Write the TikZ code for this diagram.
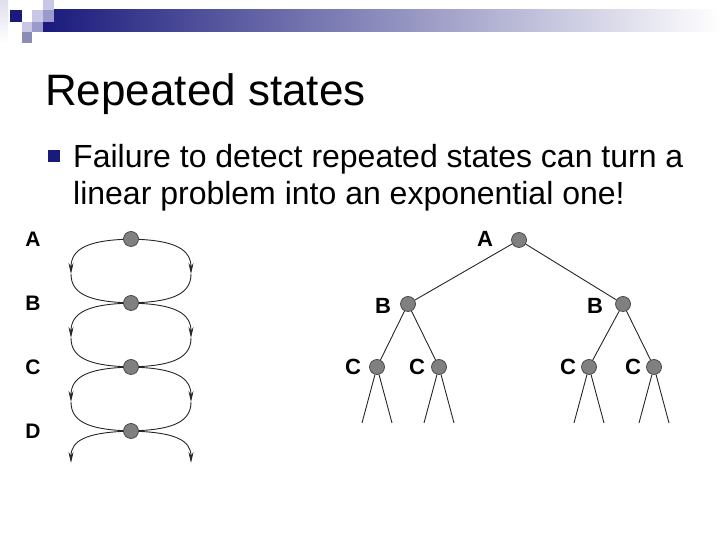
\documentclass[tikz,border=0pt]{standalone}
\usepackage{fontspec}
\setmainfont{Liberation Sans}
\usetikzlibrary{arrows.meta}
\definecolor{slidenavy}{HTML}{1A1A7C}
\definecolor{slidemid}{HTML}{9A9ACC}
\definecolor{slidelight}{HTML}{C8C8E6}
\definecolor{slidegrey}{HTML}{A4A4B6}
\tikzset{
 state/.style={circle, fill=gray, draw=black!75, line width=0.7pt, inner sep=0pt, minimum size=15pt},
 edge/.style={draw=black!85, line width=0.9pt},
 lbl/.style={font=\fontsize{21}{21}\selectfont\bfseries},
 tlbl/.style={font=\fontsize{22}{22}\selectfont\bfseries}
}
\begin{document}
\begin{tikzpicture}[x=1pt, y=1pt, >={Stealth[length=11pt,width=5pt]}, line join=round]
 \useasboundingbox (0,0) rectangle (720,540);
 % slide header
 \shade[top color=slidelight!60, bottom color=white] (0,497) rectangle (8,540);
 \shade[left color=slidenavy, middle color=slidegrey, right color=white] (43,508) rectangle (720,530);
 \fill[slidenavy] (10,518) rectangle (22,530);
 \fill[slidelight] (32,518) rectangle (43,530);
 \fill[slidelight] (43,530) rectangle (54,540);
 \fill[slidemid] (43,518) rectangle (54,530);
 \fill[slidelight] (22,508) rectangle (32,518);
 \fill[slidemid] (32,508) rectangle (43,518);
 \fill[slidemid!90!black] (22,497) rectangle (32,508);
 \node[anchor=base west, font=\fontsize{44}{53}\selectfont, inner sep=0pt] (title) at (45,434) {Repeated states};
 \fill[slidenavy] (48,378) rectangle (60,390);
 \node[anchor=base west, font=\fontsize{32}{37}\selectfont, inner sep=0pt] (line1) at (73,372) {Failure to detect repeated states can turn a};
 \node[anchor=base west, font=\fontsize{32}{37}\selectfont, inner sep=0pt] (line2) at (73,335) {linear problem into an exponential one!};
 % chain of states
 \node[state] (s1) at (131,301) {};
 \node[state] (s2) at (131,237) {};
 \node[state] (s3) at (131,173) {};
 \node[state] (s4) at (131,109) {};
 \node[lbl] (la) at (33,301) {A};
 \node[lbl] (lb) at (33,237) {B};
 \node[lbl] (lc) at (33,173) {C};
 \node[lbl] (ld) at (33,109) {D};
 \foreach \i/\j/\y in {1/2/301, 2/3/237, 3/4/173} {
  \coordinate (l\i) at (71,\y-35);
  \coordinate (r\i) at (191,\y-35);
  \draw[edge,->] (s\i) .. controls (88,\y-2) and (71,\y-10) .. (l\i);
  \draw[edge] (l\i) .. controls (71,\y-54) and (88,\y-62) .. (s\j);
  \draw[edge,->] (s\i) .. controls (174,\y-2) and (191,\y-10) .. (r\i);
  \draw[edge] (r\i) .. controls (191,\y-54) and (174,\y-62) .. (s\j);
 }
 \coordinate (l4) at (71,77);
 \coordinate (r4) at (191,77);
 \draw[edge,->] (s4) .. controls (88,107) and (71,100) .. (l4);
 \draw[edge,->] (s4) .. controls (174,107) and (191,100) .. (r4);
 % search tree
 \node[state] (tA) at (519,300) {};
 \node[state] (tB1) at (408,236) {};
 \node[state] (tB2) at (623,236) {};
 \node[state] (tC1) at (377,173) {};
 \node[state] (tC2) at (439,173) {};
 \node[state] (tC3) at (589,173) {};
 \node[state] (tC4) at (654,173) {};
 \node[tlbl] (tlA) at (485,301) {A};
 \node[tlbl] (tlB1) at (383,234) {B};
 \node[tlbl] (tlB2) at (595,234) {B};
 \node[tlbl] (tlC1) at (353,173) {C};
 \node[tlbl] (tlC2) at (417,173) {C};
 \node[tlbl] (tlC3) at (568,173) {C};
 \node[tlbl] (tlC4) at (633,173) {C};
 \draw[edge] (tA) -- (tB1);
 \draw[edge] (tA) -- (tB2);
 \draw[edge] (tB1) -- (tC1);
 \draw[edge] (tB1) -- (tC2);
 \draw[edge] (tB2) -- (tC3);
 \draw[edge] (tB2) -- (tC4);
 \foreach \c/\x in {1/377, 2/439, 3/589, 4/654} {
  \coordinate (tL\c a) at (\x-15,117);
  \coordinate (tL\c b) at (\x+15,117);
  \draw[edge] (tC\c) -- (tL\c a);
  \draw[edge] (tC\c) -- (tL\c b);
 }
\end{tikzpicture}
\end{document}
